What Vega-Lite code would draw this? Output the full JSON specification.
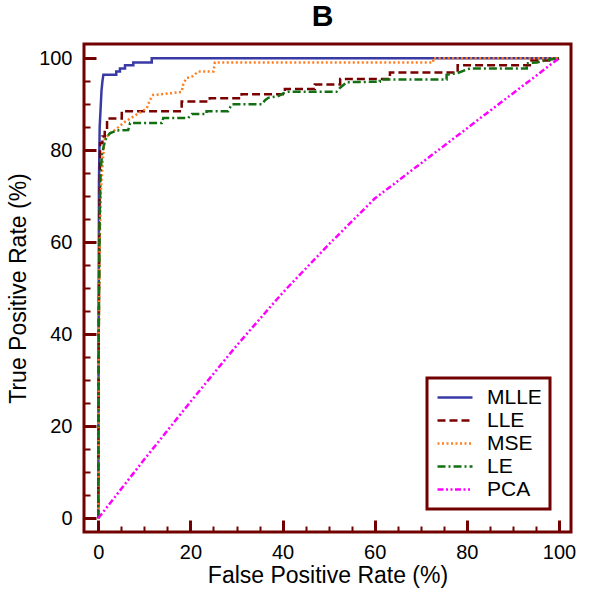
{
  "$schema": "https://vega.github.io/schema/vega-lite/v6.json",
  "width": 487,
  "height": 488,
  "autosize": {"type": "none"},
  "padding": {"left": 84, "top": 44, "right": 18, "bottom": 62},
  "background": "white",
  "title": {"text": "B", "fontSize": 30, "fontWeight": "bold", "font": "Liberation Sans", "color": "black", "anchor": "middle", "offset": 12, "dx": -5},
  "config": {
    "view": {"stroke": "#730000", "strokeWidth": 3},
    "font": "Liberation Sans",
    "axis": {"grid": false, "domain": false, "labelFont": "Liberation Sans", "titleFont": "Liberation Sans", "labelColor": "black", "titleColor": "black", "titleFontWeight": "normal", "tickColor": "#730000"},
    "legend": {"strokeColor": "#730000", "fillColor": "white", "strokeWidth": 3}
  },
  "data": {"values": [
    {"s":"MLLE","x":0,"y":0},{"s":"MLLE","x":0.1,"y":50},{"s":"MLLE","x":0.15,"y":73},{"s":"MLLE","x":0.3,"y":85},{"s":"MLLE","x":0.5,"y":89},{"s":"MLLE","x":0.7,"y":93},{"s":"MLLE","x":0.9,"y":95},{"s":"MLLE","x":1.1,"y":96.4},{"s":"MLLE","x":3.9,"y":96.4},{"s":"MLLE","x":3.9,"y":97.1},{"s":"MLLE","x":4.7,"y":97.1},{"s":"MLLE","x":4.7,"y":97.8},{"s":"MLLE","x":5.8,"y":97.8},{"s":"MLLE","x":5.8,"y":98.5},{"s":"MLLE","x":7.6,"y":98.5},{"s":"MLLE","x":7.6,"y":99.1},{"s":"MLLE","x":11.6,"y":99.1},{"s":"MLLE","x":11.6,"y":100},{"s":"MLLE","x":100,"y":100},
    {"s":"LLE","x":0,"y":0},{"s":"LLE","x":0.1,"y":40},{"s":"LLE","x":0.3,"y":70},{"s":"LLE","x":0.4,"y":81.6},{"s":"LLE","x":0.9,"y":81.6},{"s":"LLE","x":0.9,"y":83},{"s":"LLE","x":1.4,"y":83},{"s":"LLE","x":1.4,"y":84.5},{"s":"LLE","x":1.9,"y":84.5},{"s":"LLE","x":1.9,"y":86.9},{"s":"LLE","x":5.1,"y":86.9},{"s":"LLE","x":5.1,"y":88.5},{"s":"LLE","x":18.1,"y":88.5},{"s":"LLE","x":18.1,"y":90.6},{"s":"LLE","x":24.2,"y":90.6},{"s":"LLE","x":24.2,"y":91.3},{"s":"LLE","x":31.1,"y":91.3},{"s":"LLE","x":31.1,"y":92.2},{"s":"LLE","x":40.5,"y":92.2},{"s":"LLE","x":40.5,"y":93.3},{"s":"LLE","x":47,"y":93.3},{"s":"LLE","x":47,"y":94.3},{"s":"LLE","x":52.5,"y":94.3},{"s":"LLE","x":52.5,"y":95.5},{"s":"LLE","x":63.3,"y":95.5},{"s":"LLE","x":63.3,"y":96.9},{"s":"LLE","x":78,"y":96.9},{"s":"LLE","x":78,"y":98.5},{"s":"LLE","x":94,"y":98.5},{"s":"LLE","x":94,"y":99.5},{"s":"LLE","x":99,"y":99.5},{"s":"LLE","x":100,"y":100},
    {"s":"MSE","x":0,"y":0},{"s":"MSE","x":0.1,"y":40},{"s":"MSE","x":0.3,"y":60},{"s":"MSE","x":0.6,"y":72},{"s":"MSE","x":1.0,"y":78},{"s":"MSE","x":1.4,"y":82.5},{"s":"MSE","x":2.5,"y":83.6},{"s":"MSE","x":3.6,"y":84.4},{"s":"MSE","x":5.8,"y":86.2},{"s":"MSE","x":8.7,"y":88},{"s":"MSE","x":10.5,"y":89.1},{"s":"MSE","x":11.2,"y":90.9},{"s":"MSE","x":11.9,"y":92},{"s":"MSE","x":15.9,"y":92.4},{"s":"MSE","x":18.1,"y":92.7},{"s":"MSE","x":18.5,"y":94.6},{"s":"MSE","x":19.2,"y":95.7},{"s":"MSE","x":20.3,"y":96},{"s":"MSE","x":21.7,"y":97.1},{"s":"MSE","x":25,"y":97.1},{"s":"MSE","x":25.3,"y":99.1},{"s":"MSE","x":72.7,"y":99.1},{"s":"MSE","x":72.7,"y":100},{"s":"MSE","x":100,"y":100},
    {"s":"LE","x":0,"y":0},{"s":"LE","x":0.1,"y":40},{"s":"LE","x":0.3,"y":65},{"s":"LE","x":0.5,"y":75},{"s":"LE","x":0.8,"y":79},{"s":"LE","x":1.45,"y":82.2},{"s":"LE","x":2.5,"y":83.7},{"s":"LE","x":4,"y":84.3},{"s":"LE","x":6.5,"y":84.4},{"s":"LE","x":6.9,"y":85.9},{"s":"LE","x":13.8,"y":85.9},{"s":"LE","x":14.1,"y":87},{"s":"LE","x":19.5,"y":87},{"s":"LE","x":20.3,"y":87.9},{"s":"LE","x":23.5,"y":87.9},{"s":"LE","x":23.5,"y":88.5},{"s":"LE","x":28.2,"y":88.5},{"s":"LE","x":28.6,"y":89.3},{"s":"LE","x":29,"y":90},{"s":"LE","x":35.5,"y":90},{"s":"LE","x":36.2,"y":90.9},{"s":"LE","x":36.9,"y":91.4},{"s":"LE","x":39.1,"y":91.8},{"s":"LE","x":40.2,"y":92.4},{"s":"LE","x":41.2,"y":92.7},{"s":"LE","x":51.7,"y":92.7},{"s":"LE","x":52.4,"y":93.5},{"s":"LE","x":53.2,"y":94.2},{"s":"LE","x":53.9,"y":94.8},{"s":"LE","x":61.1,"y":94.9},{"s":"LE","x":61.1,"y":95.4},{"s":"LE","x":75.6,"y":95.4},{"s":"LE","x":75.6,"y":96.4},{"s":"LE","x":78,"y":96.8},{"s":"LE","x":80.7,"y":97.8},{"s":"LE","x":93,"y":97.8},{"s":"LE","x":93,"y":98.9},{"s":"LE","x":95.2,"y":99.1},{"s":"LE","x":97.3,"y":99.6},{"s":"LE","x":100,"y":100},
    {"s":"PCA","x":0,"y":0},{"s":"PCA","x":10,"y":12.8},{"s":"PCA","x":20,"y":25.3},{"s":"PCA","x":30,"y":37.5},{"s":"PCA","x":40,"y":49},{"s":"PCA","x":50,"y":59.5},{"s":"PCA","x":60,"y":69.5},{"s":"PCA","x":100,"y":100}
  ]},
  "layer": [
    {
      "mark": {"type": "line", "strokeWidth": 2.5, "clip": true},
      "encoding": {
        "x": {"field": "x", "type": "quantitative", "scale": {"domain": [-3.1, 102.6], "nice": false, "zero": false},
              "axis": {"values": [0,20,40,60,80,100], "tickSize": -12, "tickWidth": 3, "labelFontSize": 20, "labelPadding": 22, "title": "False Positive Rate (%)", "titleFontSize": 23, "titlePadding": 2, "orient": "bottom"}},
        "y": {"field": "y", "type": "quantitative", "scale": {"domain": [-3, 103.1], "nice": false, "zero": false},
              "axis": {"values": [0,20,40,60,80,100], "tickSize": -12, "tickWidth": 3, "labelFontSize": 20, "labelPadding": 24, "title": "True Positive Rate (%)", "titleFontSize": 23, "titlePadding": 8, "orient": "left"}},
        "order": {"field": "x", "type": "quantitative"},
        "color": {"field": "s", "type": "nominal", "sort": ["MLLE","LLE","MSE","LE","PCA"],
                  "scale": {"domain": ["MLLE","LLE","MSE","LE","PCA"], "range": ["#3a3aa6","#7a0000","#ff7f20","#127012","#ff00ff"]},
                  "legend": {"title": null, "orient": "none", "legendX": 343, "legendY": 334, "labelFontSize": 21, "labelFont": "Liberation Sans", "labelColor": "black", "symbolType": "stroke", "symbolSize": 1225, "symbolStrokeWidth": 2.5, "symbolOffset": 1, "labelOffset": 13, "padding": 8, "rowPadding": 0, "clipHeight": 23}},
        "strokeDash": {"field": "s", "type": "nominal", "sort": ["MLLE","LLE","MSE","LE","PCA"],
                  "scale": {"domain": ["MLLE","LLE","MSE","LE","PCA"], "range": [[1,0],[8,4],[2,2.5],[8,3,2,3],[6,2.5,2,2.5,2,2.5]]},
                  "legend": {"title": null, "orient": "none", "legendX": 343, "legendY": 334, "labelFontSize": 21, "labelFont": "Liberation Sans", "labelColor": "black", "symbolType": "stroke", "symbolSize": 1225, "symbolStrokeWidth": 2.5, "symbolOffset": 1, "labelOffset": 13, "padding": 8, "rowPadding": 0, "clipHeight": 23}}
      }
    },
    {
      "mark": {"type": "point", "opacity": 0},
      "encoding": {
        "x": {"field": "x", "type": "quantitative", "axis": {"values": [5,10,15,25,30,35,45,50,55,65,70,75,85,90,95], "tickSize": -6, "tickWidth": 2, "labels": false, "title": null, "orient": "bottom"}},
        "y": {"field": "y", "type": "quantitative", "axis": {"values": [5,10,15,25,30,35,45,50,55,65,70,75,85,90,95], "tickSize": -6, "tickWidth": 2, "labels": false, "title": null, "orient": "left"}}
      }
    }
  ],
  "resolve": {"axis": {"x": "independent", "y": "independent"}}
}
